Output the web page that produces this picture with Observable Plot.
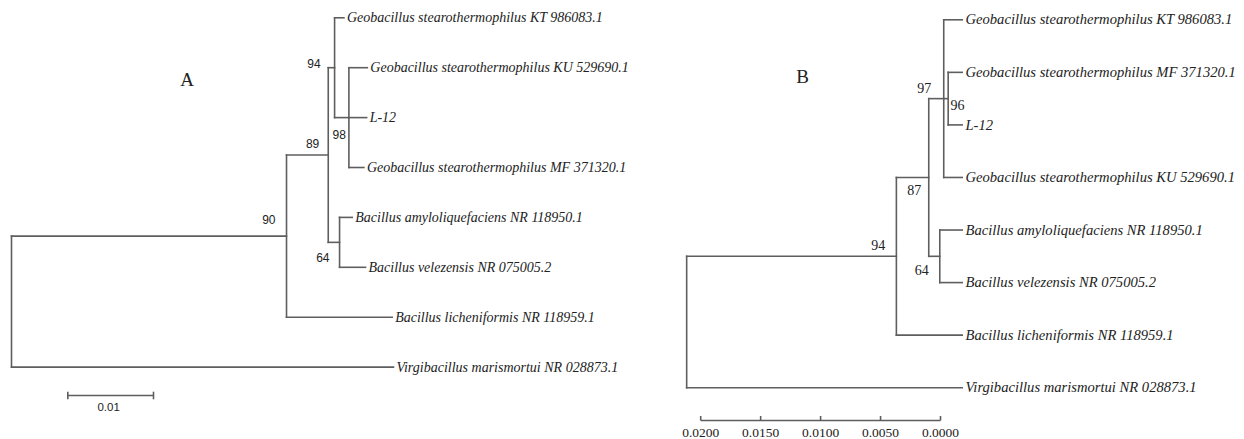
<!DOCTYPE html>
<html><head><meta charset="utf-8">
<script src="https://cdn.jsdelivr.net/npm/d3@7"></script>
<script src="https://cdn.jsdelivr.net/npm/@observablehq/plot@0.6"></script>
<style>
html,body{margin:0;padding:0;background:#fff;}
#wrap{position:relative;width:1244px;height:439px;overflow:hidden;background:#fff;}
#wrap svg{position:absolute;top:0;overflow:visible;}
.panel{position:absolute;font-family:"Liberation Serif",serif;font-size:19px;color:#222;line-height:1;transform:translate(-50%,-50%);}
</style></head><body>
<div id="wrap"></div>
<script>
// ---------------- DATA ----------------
// Tree A (neighbour-joining style, branch lengths = substitutions/site)
const treeANodes   = ["root","n90","virgi","n89","lich","n94","n64","KT","n98","KU","L12","MF","amylo","velez"];
const treeAParents = [null,"root","root","n90","n90","n89","n89","n94","n94","n98","n98","n98","n64","n64"];
const treeALengths = [0,0.03209,0.04457,0.00487,0.01233,0.00074,0.00132,0.00109,0.00167,0.00215,0.00207,0.00175,0.00148,0.00303];
const treeABootNodes  = ["n94","n89","n90","n98","n64"];
const treeABootValues = ["94","89","90","98","64"];
const treeAScaleBar = 0.01;
const treeAScaleLabel = "0.01";

// Tree B (UPGMA style, node heights above tips)
const treeBNodes   = ["root","n94","virgi","n87","lich","n97","n64","KT","n96","KU","MF","L12","amylo","velez"];
const treeBParents = [null,"root","root","n94","n94","n87","n87","n97","n97","n97","n96","n96","n64","n64"];
const treeBHeights = [0.02298,0.00549,0,0.00279,0,0.00154,0.00187,0,0.00117,0,0,0,0,0];
const treeBBootNodes  = ["n94","n87","n97","n96","n64"];
const treeBBootValues = ["94","87","97","96","64"];
const treeBAxisTicks = [0.02,0.015,0.01,0.005,0];

// Tip labels
const tipKeys   = ["KT","KU","L12","MF","amylo","velez","lich","virgi"];
const tipLabels = [
  "Geobacillus stearothermophilus KT 986083.1",
  "Geobacillus stearothermophilus KU 529690.1",
  "L-12",
  "Geobacillus stearothermophilus MF 371320.1",
  "Bacillus amyloliquefaciens NR 118950.1",
  "Bacillus velezensis NR 075005.2",
  "Bacillus licheniformis NR 118959.1",
  "Virgibacillus marismortui NR 028873.1"
];
const panelLabels = ["A","B"];

// ---------------- LAYOUT (styles / offsets) ----------------
const LINE = "#5e5e5e", TXT = "#222";
const bootOffsetsA = {n94:[-14,-3.5,"end"], n89:[-9,-11,"end"], n90:[-11,-15.5,"end"], n98:[-3,17.8,"end"], n64:[-10,15.6,"end"]};
const bootOffsetsB = {n94:[-11,-11,"end"], n87:[-7.5,13.4,"end"], n97:[-12.5,-10,"end"], n96:[2.3,6.7,"start"], n64:[-11,14.3,"end"]};

// ---------------- TREE LAYOUT ----------------
function layoutTree(names, parents, xs) {
  const idx = new Map(names.map((n,i)=>[n,i]));
  const children = names.map(()=>[]);
  let root = 0;
  parents.forEach((p,i)=>{ if (p===null) root=i; else children[idx.get(p)].push(i); });
  const y = new Array(names.length);
  let leaf = 0;
  (function visit(i){
    if (!children[i].length) { y[i] = leaf++; return; }
    children[i].forEach(visit);
    const c = children[i];
    y[i] = (y[c[0]] + y[c[c.length-1]]) / 2;
  })(root);
  const segs = [];
  names.forEach((n,i)=>{
    if (parents[i]!==null) { const p = idx.get(parents[i]); segs.push({x1:xs[p],x2:xs[i],y1:y[i],y2:y[i]}); }
    if (children[i].length) { const c = children[i]; segs.push({x1:xs[i],x2:xs[i],y1:y[c[0]],y2:y[c[c.length-1]]}); }
  });
  const node = new Map(names.map((n,i)=>[n,{x:xs[i],y:y[i]}]));
  return {segs, node};
}

// Tree A x = cumulative distance from root
const xsA = [];
treeANodes.forEach((n,i)=>{ const p = treeAParents[i]; xsA[i] = p===null ? 0 : xsA[treeANodes.indexOf(p)] + treeALengths[i]; });
const A = layoutTree(treeANodes, treeAParents, xsA);
const B = layoutTree(treeBNodes, treeBParents, treeBHeights);

function tipData(T){ return tipKeys.map((k,i)=>({...T.node.get(k), text: tipLabels[i]})); }
function bootMarks(T, nodes, values, offs, font, size){
  return nodes.map((n,i)=>{
    const [dx,dy,anchor] = offs[n];
    return Plot.text([{...T.node.get(n), text: values[i]}], {x:"x", y:"y", text:"text", dx, dy, textAnchor: anchor, lineAnchor:"middle", fontFamily: font, fontSize: size, fill: TXT});
  });
}

// ---------------- PLOT A ----------------
const rowA0 = 17.3, rowA1 = 366.6, pxPerUnitA = 8570, rootXA = 11;
const rowStepA = (rowA1-rowA0)/7;
const barStartA = (67.3 - rootXA)/pxPerUnitA;
const barRowA = 7 + (395 - rowA1)/rowStepA;
const plotA = Plot.plot({
  width: 640, height: 439, margin: 0,
  x: {type:"linear", domain:[0,0.01], range:[rootXA, rootXA + 0.01*pxPerUnitA], axis:null},
  y: {type:"linear", domain:[0,7], range:[rowA0,rowA1], axis:null},
  marks: [
    Plot.link(A.segs, {x1:"x1",x2:"x2",y1:"y1",y2:"y2", stroke: LINE, strokeWidth: 1.6, strokeLinecap:"square"}),
    Plot.text(tipData(A), {x:"x", y:"y", text:"text", dx:3, textAnchor:"start", lineAnchor:"middle", fontFamily:"Liberation Serif", fontStyle:"italic", fontSize:14, fill:TXT}),
    ...bootMarks(A, treeABootNodes, treeABootValues, bootOffsetsA, "Liberation Sans", 12),
    Plot.link([{x1:barStartA, x2:barStartA+treeAScaleBar}], {x1:"x1", x2:"x2", y1:()=>barRowA, y2:()=>barRowA, stroke: LINE, strokeWidth:1.6}),
    Plot.link([barStartA, barStartA+treeAScaleBar], {x1:d=>d, x2:d=>d, y1:()=>barRowA-3.8/rowStepA, y2:()=>barRowA+3.8/rowStepA, stroke: LINE, strokeWidth:1.6}),
    Plot.text([{x: barStartA+treeAScaleBar/2, text: treeAScaleLabel}], {x:"x", y:()=>barRowA, text:"text", dx:-2, dy:11.5, lineAnchor:"middle", fontFamily:"Liberation Sans", fontSize:11.5, fill:TXT})
  ]
});

// ---------------- PLOT B ----------------
const offB = 640, tipXB = 961.7 - offB, pxPerUnitB = 11990, axisShiftB = -21.7;
const rowB0 = 19.3, rowB1 = 387.2;
const rowStepB = (rowB1-rowB0)/7;
const axisRowB = 7 + (420 - rowB1)/rowStepB;
const plotB = Plot.plot({
  width: 604, height: 439, margin: 0,
  x: {type:"linear", domain:[0,0.02], range:[tipXB, tipXB - 0.02*pxPerUnitB], axis:null},
  y: {type:"linear", domain:[0,7], range:[rowB0,rowB1], axis:null},
  marks: [
    Plot.link(B.segs, {x1:"x1",x2:"x2",y1:"y1",y2:"y2", stroke: LINE, strokeWidth: 1.6, strokeLinecap:"square"}),
    Plot.text(tipData(B), {x:"x", y:"y", text:"text", dx:3.3, textAnchor:"start", lineAnchor:"middle", fontFamily:"Liberation Serif", fontStyle:"italic", fontSize:14.6, fill:TXT}),
    ...bootMarks(B, treeBBootNodes, treeBBootValues, bootOffsetsB, "Liberation Serif", 14),
    Plot.link([{x1: d3.max(treeBAxisTicks), x2: d3.min(treeBAxisTicks)}], {x1:"x1", x2:"x2", y1:()=>axisRowB, y2:()=>axisRowB, dx: axisShiftB, stroke: LINE, strokeWidth:1.6}),
    Plot.link(treeBAxisTicks, {x1:d=>d, x2:d=>d, y1:()=>axisRowB-4.5/rowStepB, y2:()=>axisRowB, dx: axisShiftB, stroke: LINE, strokeWidth:1.6}),
    Plot.text(treeBAxisTicks, {x:d=>d, y:()=>axisRowB, text:d=>d3.format(".4f")(d), dx: axisShiftB, dy: 12, lineAnchor:"middle", fontFamily:"Liberation Serif", fontSize:13.5, fill:TXT})
  ]
});

const wrap = document.getElementById("wrap");
plotA.style.left = "0px";
plotB.style.left = offB + "px";
wrap.appendChild(plotA);
wrap.appendChild(plotB);
const panelPos = [[187,78.5],[802.5,75.5]];
panelLabels.forEach((t,i)=>{
  const d = document.createElement("div");
  d.className = "panel"; d.textContent = t;
  d.style.left = panelPos[i][0]+"px"; d.style.top = panelPos[i][1]+"px";
  wrap.appendChild(d);
});
</script>
</body></html>
